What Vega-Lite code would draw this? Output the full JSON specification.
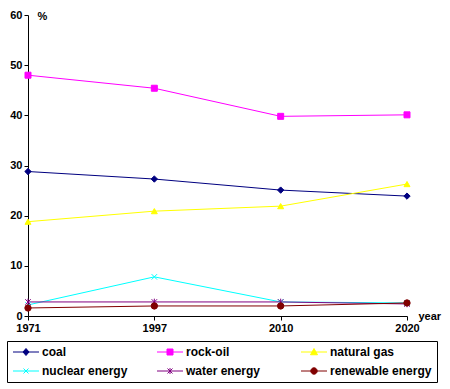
{
  "$schema": "https://vega.github.io/schema/vega-lite/v6.json",
  "width": 379,
  "height": 301,
  "autosize": {"type": "none"},
  "padding": {"left": 28, "top": 15, "right": 43, "bottom": 73},
  "background": "white",
  "config": {
    "view": {"stroke": null},
    "font": "Liberation Sans",
    "axis": {
      "domainColor": "black",
      "tickColor": "black",
      "labelColor": "black",
      "titleColor": "black",
      "labelFont": "Liberation Sans",
      "titleFont": "Liberation Sans",
      "labelFontWeight": "bold",
      "titleFontWeight": "bold",
      "labelFontSize": 11,
      "titleFontSize": 11,
      "grid": false,
      "tickSize": 4
    },
    "legend": {
      "labelFont": "Liberation Sans",
      "labelFontWeight": "bold",
      "labelFontSize": 12,
      "labelColor": "black"
    }
  },
  "data": {
    "values": [
      {"year": "1971", "series": "coal", "value": 28.8},
      {"year": "1997", "series": "coal", "value": 27.3},
      {"year": "2010", "series": "coal", "value": 25.1},
      {"year": "2020", "series": "coal", "value": 23.9},
      {"year": "1971", "series": "rock-oil", "value": 48.0},
      {"year": "1997", "series": "rock-oil", "value": 45.4},
      {"year": "2010", "series": "rock-oil", "value": 39.8},
      {"year": "2020", "series": "rock-oil", "value": 40.1},
      {"year": "1971", "series": "natural gas", "value": 18.8},
      {"year": "1997", "series": "natural gas", "value": 20.9},
      {"year": "2010", "series": "natural gas", "value": 21.9},
      {"year": "2020", "series": "natural gas", "value": 26.3},
      {"year": "1971", "series": "nuclear energy", "value": 2.2},
      {"year": "1997", "series": "nuclear energy", "value": 7.8},
      {"year": "2010", "series": "nuclear energy", "value": 2.8},
      {"year": "2020", "series": "nuclear energy", "value": 2.6},
      {"year": "1971", "series": "water energy", "value": 2.8},
      {"year": "1997", "series": "water energy", "value": 2.8},
      {"year": "2010", "series": "water energy", "value": 2.8},
      {"year": "2020", "series": "water energy", "value": 2.4},
      {"year": "1971", "series": "renewable energy", "value": 1.6},
      {"year": "1997", "series": "renewable energy", "value": 2.0},
      {"year": "2010", "series": "renewable energy", "value": 2.0},
      {"year": "2020", "series": "renewable energy", "value": 2.6}
    ]
  },
  "encoding": {
    "x": {
      "field": "year",
      "type": "ordinal",
      "scale": {"type": "point", "padding": 0},
      "axis": {
        "title": "year",
        "labelAngle": 0,
        "labelPadding": 2,
        "titleX": 390,
        "titleY": 0,
        "titleAlign": "left",
        "titleBaseline": "middle"
      }
    },
    "y": {
      "field": "value",
      "type": "quantitative",
      "scale": {"domain": [0, 60], "nice": false},
      "axis": {
        "title": "%",
        "values": [0, 10, 20, 30, 40, 50, 60],
        "labelPadding": 2,
        "titleAngle": 0,
        "titleX": 9,
        "titleY": 1,
        "titleAlign": "left",
        "titleBaseline": "middle"
      }
    },
    "color": {
      "field": "series",
      "type": "nominal",
      "scale": {
        "domain": ["coal", "rock-oil", "natural gas", "nuclear energy", "water energy", "renewable energy"],
        "range": ["#000080", "#FF00FF", "#FFFF00", "#00FFFF", "#800080", "#800000"]
      },
      "legend": {
        "title": null,
        "orient": "none",
        "legendX": -21,
        "legendY": 326,
        "direction": "horizontal",
        "columns": 3,
        "gridAlign": "all",
        "columnPadding": 11,
        "rowPadding": 7,
        "padding": 5,
        "strokeColor": "black",
        "symbolSize": 100,
        "symbolStrokeWidth": 1,
        "symbolOpacity": 1,
        "symbolOffset": 0,
        "labelOffset": 18,
        "labelLimit": 200,
        "encode": {
          "symbols": {
            "update": {
              "fill": {"signal": "scale('color', datum.value)"},
              "stroke": {"signal": "scale('color', datum.value)"},
              "shape": {"signal": "datum.value === 'coal' ? 'M-1,0H4.2M1.6,-0.7L2.2,0L1.6,0.7L1,0Z' : datum.value === 'rock-oil' ? 'M-1,0H4.2M1,-0.6H2.2V0.6H1Z' : datum.value === 'natural gas' ? 'M-1,0H4.2M1.6,-0.7L2.3,0.55H0.9Z' : datum.value === 'nuclear energy' ? 'M-1,0H4.2M1.1,-0.5L2.1,0.5M1.1,0.5L2.1,-0.5' : datum.value === 'water energy' ? 'M-1,0H4.2M1.1,-0.5L2.1,0.5M1.1,0.5L2.1,-0.5M1.6,-0.6V0.6' : 'M-1,0H4.2M2.24,0A0.64,0.64,0,1,1,0.96,0A0.64,0.64,0,1,1,2.24,0Z'"}
            }
          }
        }
      }
    }
  },
  "layer": [
    {"mark": {"type": "line", "strokeWidth": 1}},
    {"transform": [{"filter": "datum.series === 'coal'"}], "mark": {"type": "point", "filled": true, "opacity": 1, "size": 40, "strokeWidth": 1, "stroke": "#000080", "shape": "diamond"}},
    {"transform": [{"filter": "datum.series === 'rock-oil'"}], "mark": {"type": "point", "filled": true, "opacity": 1, "size": 36, "strokeWidth": 1, "stroke": "#FF00FF", "shape": "square"}},
    {"transform": [{"filter": "datum.series === 'natural gas'"}], "mark": {"type": "point", "filled": true, "opacity": 1, "size": 36, "strokeWidth": 1, "stroke": "#FFFF00", "shape": "triangle-up"}},
    {"transform": [{"filter": "datum.series === 'nuclear energy'"}], "mark": {"type": "point", "filled": true, "opacity": 1, "size": 30, "strokeWidth": 1, "stroke": "#00FFFF", "shape": "M-1,-1L1,1M-1,1L1,-1"}},
    {"transform": [{"filter": "datum.series === 'water energy'"}], "mark": {"type": "point", "filled": true, "opacity": 1, "size": 30, "strokeWidth": 1, "stroke": "#800080", "shape": "M-1,-1L1,1M-1,1L1,-1M0,-1.2V1.2"}},
    {"transform": [{"filter": "datum.series === 'renewable energy'"}], "mark": {"type": "point", "filled": true, "opacity": 1, "size": 40, "strokeWidth": 1, "stroke": "#800000", "shape": "circle"}}
  ]
}
